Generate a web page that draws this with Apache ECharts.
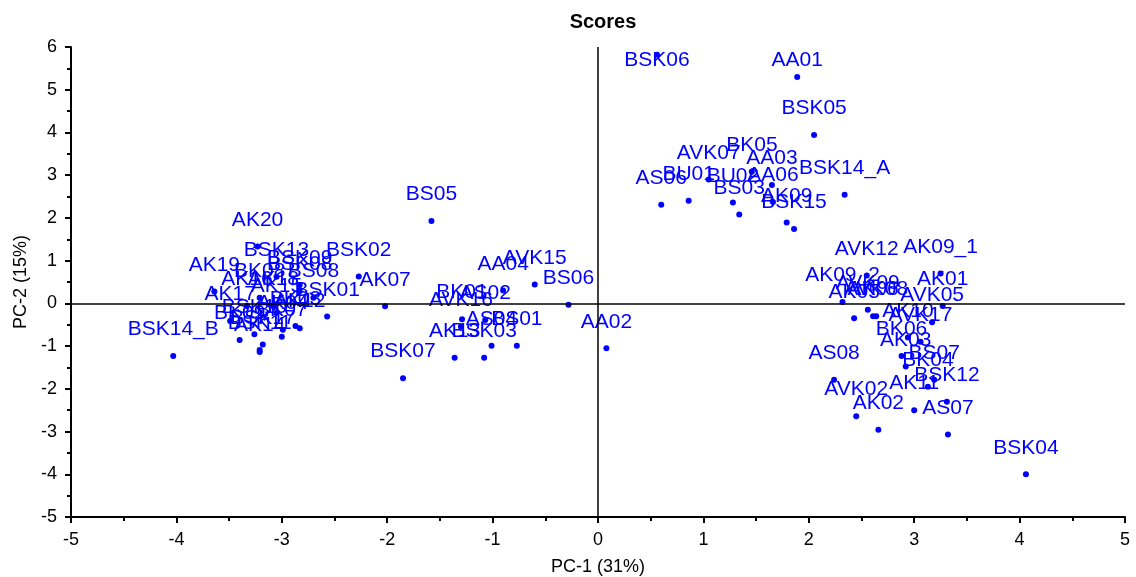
<!DOCTYPE html>
<html>
<head>
<meta charset="utf-8">
<script src="https://cdn.jsdelivr.net/npm/echarts@6/dist/echarts.min.js"></script>
<style>
  html, body { margin: 0; padding: 0; background: #fff; }
  #chart { width: 1136px; height: 577px; }
</style>
</head>
<body>
<div id="chart"></div>
<script>
// sample names and scores
const names = [
  'BSK06', 'AA01', 'BSK05', 'BSK14_A', 'AS06', 'BU01', 'AVK07', 'BU02', 'BS03', 'BK05',
  'AA03', 'AA06', 'AK09', 'BSK15',
  'BS05', 'AVK15', 'AA04', 'BS06', 'AK07', 'AA02', 'BSK07', 'AK13', 'BSK03', 'AS04',
  'BS01', 'AVK16', 'BK01', 'AS02',
  'AK20', 'AK19', 'BSK02', 'BSK01', 'BSK14_B', 'BSK13', 'BSK09', 'BSK08', 'BS08', 'BK08',
  'AK16', 'AK18', 'AK15', 'AK17', 'BK03', 'AK12', 'BK07', 'AK04', 'BSK10', 'BK09',
  'BSK17', 'AK14', 'BSK11',
  'AVK12', 'AK09_1', 'AK01', 'AK09_2', 'AVK05', 'AK10', 'AVK17', 'BK06', 'AK03', 'BS07',
  'BK04', 'AS08', 'BSK12', 'AK11', 'AVK02', 'AK02', 'AS07', 'BSK04', 'AVK09', 'AK06',
  'AVK08', 'AK05'
];
const pc1 = [
  0.56, 1.89, 2.05, 2.34, 0.60, 0.86, 1.05, 1.28, 1.34, 1.46,
  1.65, 1.66, 1.79, 1.86,
  -1.58, -0.60, -0.90, -0.28, -2.02, 0.08, -1.85, -1.36, -1.08, -1.01,
  -0.77, -1.30, -1.29, -1.07,
  -3.23, -3.64, -2.27, -2.57, -4.03, -3.05, -2.83, -2.83, -2.70, -3.21,
  -3.33, -3.08, -3.05, -3.49, -2.87, -2.83, -3.00, -2.99, -3.26, -3.40,
  -3.18, -3.21, -3.21,
  2.55, 3.25, 3.27, 2.32, 3.17, 2.94, 3.06, 2.88, 2.92, 3.19,
  3.13, 2.24, 3.31, 3.00, 2.45, 2.66, 3.32, 4.06, 2.56, 2.61,
  2.64, 2.43
];
const pc2 = [
  5.82, 5.30, 3.94, 2.54, 2.31, 2.40, 2.90, 2.36, 2.08, 3.08,
  2.77, 2.37, 1.89, 1.74,
  1.93, 0.44, 0.30, -0.03, -0.07, -1.05, -1.75, -1.27, -1.27, -0.99,
  -0.99, -0.55, -0.37, -0.39,
  1.33, 0.28, 0.63, -0.31, -1.23, 0.62, 0.43, 0.29, 0.13, 0.13,
  -0.06, -0.06, -0.22, -0.41, -0.53, -0.58, -0.78, -0.62, -0.72, -0.86,
  -0.96, -1.14, -1.09,
  0.65, 0.70, -0.06, 0.03, -0.44, -0.80, -0.90, -1.23, -1.48, -1.79,
  -1.95, -1.79, -2.30, -2.50, -2.64, -2.96, -3.07, -4.00, -0.15, -0.30,
  -0.30, -0.35
];

// axis ranges
const xMin = -5, xMax = 5, xStep = 1;
const yMin = -5, yMax = 6, yStep = 1;

const fontFamily = 'Arial, "Liberation Sans", sans-serif';
const blue = '#0000ff';

const points = names.map((n, i) => {
  const item = { name: n, value: [pc1[i], pc2[i]] };
  // labels near the top edge are pushed down onto the point
  if (pc2[i] > 5.5) {
    item.label = { position: 'inside', offset: [0, 6] };
  } else if (pc2[i] > 5) {
    item.label = { distance: 3 };
  }
  return item;
});

const axisCommon = {
  axisLine: { show: true, onZero: false, lineStyle: { color: '#000', width: 2 } },
  axisTick: { show: true, inside: false, length: 6, lineStyle: { color: '#000', width: 2 } },
  minorTick: { show: true, splitNumber: 2, length: 4, lineStyle: { color: '#000', width: 2 } },
  splitLine: { show: false },
  axisLabel: { color: '#000', fontSize: 18, fontFamily: fontFamily, margin: 14 },
  nameLocation: 'middle',
  nameTextStyle: { color: '#000', fontSize: 18, fontFamily: fontFamily }
};

const myChart = echarts.init(document.getElementById('chart'));

const option = {
  backgroundColor: '#fff',
  animation: false,
  title: {
    text: 'Scores',
    left: 598,
    top: 7,
    textAlign: 'center',
    textStyle: { color: '#000', fontSize: 20, fontWeight: 'bold', fontFamily: fontFamily }
  },
  grid: { left: 71, right: 11, top: 47, bottom: 60, outerBoundsMode: 'none' },
  xAxis: Object.assign({}, axisCommon, {
    type: 'value',
    min: xMin, max: xMax, interval: xStep,
    name: 'PC-1 (31%)',
    nameGap: 41
  }),
  yAxis: Object.assign({}, axisCommon, {
    type: 'value',
    min: yMin, max: yMax, interval: yStep,
    name: 'PC-2 (15%)',
    nameGap: 39
  }),
  series: [
    {
      type: 'scatter',
      data: points,
      symbol: 'circle',
      symbolSize: 6,
      itemStyle: { color: blue, opacity: 1 },
      label: {
        show: true,
        position: 'top',
        distance: 13,
        formatter: '{b}',
        color: blue,
        fontSize: 21,
        fontFamily: fontFamily
      },
      markLine: {
        silent: true,
        symbol: 'none',
        label: { show: false },
        lineStyle: { color: '#000', width: 1.5, type: 'solid', opacity: 1 },
        data: [{ xAxis: 0 }, { yAxis: 0 }]
      },
      z: 3
    }
  ]
};

myChart.setOption(option);
</script>
</body>
</html>
